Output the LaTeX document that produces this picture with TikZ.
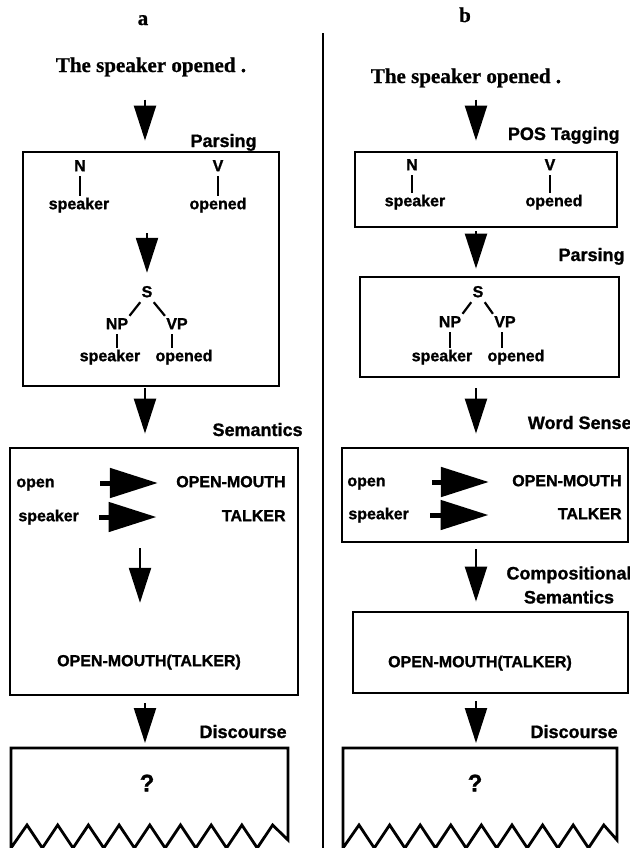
\documentclass[tikz,border=0pt]{standalone}
\usepackage{fontspec}
\setmainfont{Liberation Serif}[BoldFeatures={FakeBold=0.8}]
\newfontfamily\helv{Liberation Sans}[BoldFeatures={FakeBold=1.2}]
\usetikzlibrary{arrows.meta,positioning,calc}

\tikzset{
  stagebox/.style={draw,line width=1.4pt,inner sep=0pt},
  wrd/.style={font=\helv\bfseries\fontsize{8}{9}\selectfont,inner sep=0.5pt,text height=6pt,text depth=1.8pt},
  stagelbl/.style={font=\helv\bfseries\fontsize{9}{12}\selectfont,inner sep=0pt},
  sent/.style={font=\bfseries\fontsize{10.5}{12}\selectfont},
  qmark/.style={font=\helv\bfseries\fontsize{12}{14}\selectfont},
  bigarr/.style={-{Triangle[length=17.5pt,width=11pt]},line width=1.1pt},
  fatarr/.style={-{Triangle[length=24pt,width=14.5pt]},line width=2.5pt},
  tline/.style={line width=1.1pt},
}

\begin{document}
\begin{tikzpicture}[x=0.5pt,y=-0.5pt]
\useasboundingbox (0,0) rectangle (630,848);
% columns of the stage arrows
\coordinate (colA) at (145,0);
\coordinate (colB) at (476,0);
\draw[line width=1.1pt] (323,33) -- (323,848);

% ---------- a ----------
\node[sent,anchor=base] (labA) at (143,25) {a};
\node[sent,anchor=base] (sentA) at (151,72) {The speaker opened .};

\node[stagebox,minimum width=128pt,minimum height=117pt] (parseA) at (151,269) {};
\node[stagelbl,anchor=base east] (parseAlbl) at (257,147) {Parsing};
\draw[bigarr,shorten <=8pt,shorten >=5pt] (sentA.south -| colA) -- (parseA.north -| colA);
\node[wrd] (nA) at (80,167) {N};
\node[wrd] (vA) at (218,167) {V};
\node[wrd] (spkA) at (79,205) {speaker};
\node[wrd] (opnA) at (218,205) {opened};
\draw[tline] (nA.south) -- (nA.south |- spkA.north);
\draw[tline] (vA.south) -- (vA.south |- opnA.north);
\coordinate (inA) at (147,233);
\node[wrd] (sA) at (147,293) {S};
\draw[bigarr,shorten >=5.5pt] (inA) -- (inA |- sA.north);
\node[wrd] (npA) at (117,325) {NP};
\node[wrd] (vpA) at (177,325) {VP};
\node[wrd] (spk2A) at (110,357) {speaker};
\node[wrd] (opn2A) at (184,357) {opened};
\draw[tline] (sA.south west) -- (npA.north east);
\draw[tline] (sA.south east) -- (vpA.north west);
\draw[tline] (npA.south) -- (npA.south |- spk2A.north);
\draw[tline] ($(vpA.south)+(-5,0)$) -- ($(vpA.south |- opn2A.north)+(-5,0)$);

\node[stagebox,minimum width=144pt,minimum height=123.5pt] (semA) at (154,571.5) {};
\node[stagelbl,anchor=base east] (semAlbl) at (303,436) {Semantics};
\draw[bigarr,shorten <=0.5pt,shorten >=6.5pt] (parseA.south -| colA) -- (semA.north -| colA);
\node[wrd,anchor=west] (openA) at (15,483) {open};
\node[wrd,anchor=east] (omA) at (287,483) {OPEN-MOUTH};
\node[wrd,anchor=west] (spk3A) at (17,517) {speaker};
\node[wrd,anchor=east] (talkA) at (287,517) {TALKER};
\draw[fatarr,shorten <=22pt,shorten >=8.5pt] (openA) -- (omA);
\draw[fatarr,shorten <=9.5pt,shorten >=32pt] (spk3A) -- (talkA);
\coordinate (midA) at (140,548);
\node[wrd] (omtA) at (149,662) {OPEN-MOUTH(TALKER)};
\draw[bigarr,shorten >=25pt] (midA) -- (midA |- omtA.north);

\node[stagelbl,anchor=base east] (discAlbl) at (287,738) {Discourse};
\coordinate (discA) at (149.5,748);
\draw[bigarr,shorten <=3.5pt,shorten >=2.5pt] (semA.south -| colA) -- (discA -| colA);
\draw[line width=1.4pt] (272.6,825) -- (288,840) -- (288,748) -- (11,748) -- (11,848)
  \foreach \i in {0,...,7} { -- ({27+30.7*\i},825) -- ({42.35+30.7*\i},848) } -- cycle;
\node[qmark] (qA) at (147,783) {?};

% ---------- b ----------
\node[sent,anchor=base] (labB) at (465,22) {b};
\node[sent,anchor=base] (sentB) at (466,83) {The speaker opened .};

\node[stagebox,minimum width=131pt,minimum height=37.5pt] (posB) at (486,189.5) {};
\node[stagelbl,anchor=base east] (posBlbl) at (620,140) {POS Tagging};
\draw[bigarr,shorten <=2.5pt,shorten >=5pt] (sentB.south -| colB) -- (posB.north -| colB);
\node[wrd] (nB) at (412,166) {N};
\node[wrd] (vB) at (550,166) {V};
\node[wrd] (spkB) at (415,202) {speaker};
\node[wrd] (opnB) at (554,202) {opened};
\draw[tline] (nB.south) -- (nB.south |- spkB.north);
\draw[tline] (vB.south) -- (vB.south |- opnB.north);

\node[stagebox,minimum width=129.5pt,minimum height=50pt] (parseB) at (489.5,327) {};
\node[stagelbl,anchor=base east] (parseBlbl) at (625,261) {Parsing};
\draw[bigarr,shorten <=1.5pt,shorten >=3.5pt] (posB.south -| colB) -- (parseB.north -| colB);
\node[wrd] (sB) at (478,293) {S};
\node[wrd] (npB) at (450,323) {NP};
\node[wrd] (vpB) at (505,323) {VP};
\node[wrd] (spk2B) at (442,357) {speaker};
\node[wrd] (opn2B) at (516,357) {opened};
\draw[tline] (sB.south west) -- (npB.north east);
\draw[tline] (sB.south east) -- (vpB.north west);
\draw[tline] (npB.south) -- (npB.south |- spk2B.north);
\draw[tline] ($(vpB.south)+(-3,0)$) -- ($(vpB.south |- opn2B.north)+(-3,0)$);

\node[stagebox,minimum width=143pt,minimum height=47pt] (wsB) at (485,495) {};
\node[stagelbl,anchor=base east] (wsBlbl) at (632,429) {Word Sense};
\draw[bigarr,shorten <=5pt,shorten >=6.5pt] (parseB.south -| colB) -- (wsB.north -| colB);
\node[wrd,anchor=west] (openB) at (346,482) {open};
\node[wrd,anchor=east] (omB) at (623,482) {OPEN-MOUTH};
\node[wrd,anchor=west] (spk3B) at (347,515) {speaker};
\node[wrd,anchor=east] (talkB) at (623,515) {TALKER};
\draw[fatarr,shorten <=22.5pt,shorten >=11pt] (openB) -- (omB);
\draw[fatarr,shorten <=10pt,shorten >=34pt] (spk3B) -- (talkB);

\node[stagebox,minimum width=137.5pt,minimum height=40.5pt] (csB) at (490.5,652.5) {};
\node[stagelbl,align=center] (csBlbl) at (569,585) {Compositional\\Semantics};
\draw[bigarr,shorten <=3pt,shorten >=4.5pt] (wsB.south -| colB) -- (csB.north -| colB);
\node[wrd] (omtB) at (480,663) {OPEN-MOUTH(TALKER)};

\node[stagelbl,anchor=base east] (discBlbl) at (618,738) {Discourse};
\coordinate (discB) at (480,748);
\draw[bigarr,shorten <=3.5pt,shorten >=2.5pt] (csB.south -| colB) -- (discB -| colB);
\draw[line width=1.4pt] (603.8,825) -- (617,840) -- (617,748) -- (343,748) -- (343,848)
  \foreach \i in {0,...,7} { -- ({359+30.6*\i},825) -- ({374.3+30.6*\i},848) } -- cycle;
\node[qmark] (qB) at (475,783) {?};
\end{tikzpicture}
\end{document}
